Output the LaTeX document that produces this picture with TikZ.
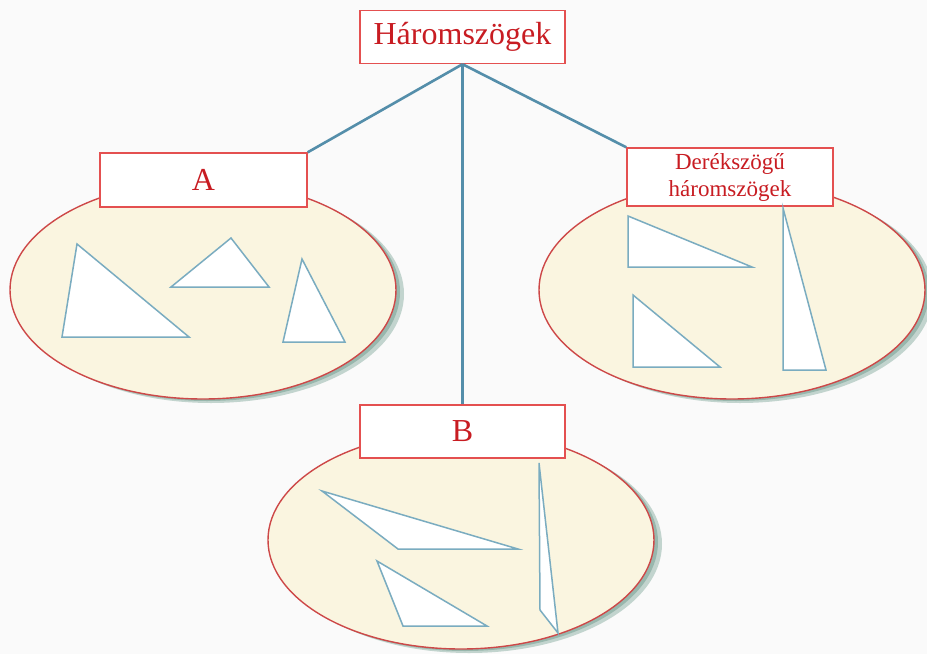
\documentclass[tikz,border=0pt]{standalone}
\usepackage{fontspec}
\setmainfont{Liberation Serif}
\usetikzlibrary{shapes.geometric,shadows}

\definecolor{boxred}{RGB}{228,80,80}
\definecolor{textred}{RGB}{200,28,34}
\definecolor{linkblue}{RGB}{84,142,170}
\definecolor{trianglblue}{RGB}{122,172,192}
\definecolor{creamfill}{RGB}{250,245,224}
\definecolor{shadowgreen}{RGB}{30,100,75}

\tikzset{
	titlebox/.style = {draw=boxred, line width=1.4pt, fill=white, text=textred,
		minimum width=205pt, minimum height=53pt, inner sep=0pt,
		font=\fontsize{32}{36}\selectfont},
	group/.style = {ellipse, draw=boxred!90!black, line width=1.4pt, fill=creamfill,
		inner sep=0pt, minimum width=386pt, minimum height=218pt,
		double copy shadow={shadow xshift=4pt, shadow yshift=-2pt, fill=shadowgreen, draw=none, opacity=.25}},
	link/.style = {draw=linkblue, line width=2.6pt},
	tri/.style = {draw=trianglblue, line width=1.5pt, fill=white, line join=miter}
}

\begin{document}
\begin{tikzpicture}[x=1pt, y=-1pt]
	\fill[white!98!black] (0,0) rectangle (927,654);
	\useasboundingbox (0,0) rectangle (927,654);

	% the three groups
	\node[group] (gA) at (203,290) {};
	\node[group] (gD) at (732,290) {};
	\node[group] (gB) at (461,540) {};

	% labels
	\node[titlebox] (h) at (462.5,37) {Háromszögek};
	\node[titlebox, minimum width=207pt, minimum height=54pt] (a) at (203.5,180) {A};
	\node[titlebox, minimum width=206pt, minimum height=58pt, align=center,
		font=\fontsize{23}{27}\selectfont] (d) at (730,177) {Derékszögű\\háromszögek};
	\node[titlebox] (b) at (462.5,431.5) {B};

	\draw[link] (h.south) -- (a.north east);
	\draw[link] (h.south) -- (d.north west);
	\draw[link] (h.south) -- (b.north);

	% A
	\draw[tri] (77,244) -- (62,337) -- (189,337) -- cycle;
	\draw[tri] (231,238) -- (171,287) -- (269,287) -- cycle;
	\draw[tri] (302,259) -- (283,342) -- (345,342) -- cycle;
	% right-angled
	\draw[tri] (628,216) -- (628,267) -- (752,267) -- cycle;
	\draw[tri] (633,295) -- (633,367) -- (720,367) -- cycle;
	\draw[tri] (783,208) -- (783,370) -- (826,370) -- cycle;
	% B
	\draw[tri] (322,491) -- (398,549) -- (518,549) -- cycle;
	\draw[tri] (377,561) -- (403,626) -- (487,626) -- cycle;
	\draw[tri] (539,463) -- (540,610) -- (558,633) -- cycle;
\end{tikzpicture}
\end{document}
